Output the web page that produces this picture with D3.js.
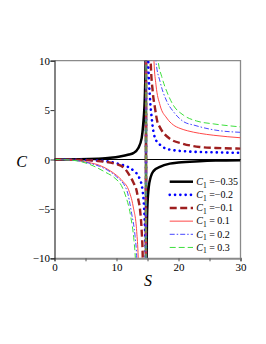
<!DOCTYPE html>
<html>
<head>
<meta charset="utf-8">
<script src="https://cdn.jsdelivr.net/npm/d3@7"></script>
<style>
  body { margin: 0; background: #fff; }
  svg text { font-family: "Liberation Serif", "DejaVu Serif", serif; }
</style>
</head>
<body>
<div id="container"></div>
<script>
// heat capacity C against entropy S for several values of C1

// S and C values, one pair of arrays per curve
const sBlack = [0, 4, 7, 9, 10.56, 12, 12.7, 13.5, 14.06, 14.3, 14.6, 14.7, 14.74,
                14.78, 14.85, 14.9, 15.0, 15.2, 15.5, 16.0, 17.0, 18.6, 20, 23.4, 26, 30];
const cBlack = [0, 0.02, 0.08, 0.17, 0.3, 0.5, 0.64, 1.14, 2.16, 3.5, 6.9, 10.5, 30,
                -30, -10.5, -7, -4.5, -2.8, -1.8, -1.15, -0.75, -0.42, -0.3, -0.17, -0.11, -0.07];

const sBlue = [0, 4, 6, 8.7, 10.3, 12, 12.7, 13.7, 14.2, 14.47, 14.64, 14.73, 14.74,
               14.78, 15.13, 15.4, 15.68, 15.84, 16.2, 17.0, 18.6, 21.9, 26, 30];
const cBlue = [0, -0.03, -0.08, -0.2, -0.44, -0.8, -1.1, -1.9, -3.1, -5.1, -7.8, -10, -30,
               30, 9.9, 6.2, 4.2, 3.3, 2.2, 1.5, 1.0, 0.8, 0.72, 0.68];

const sDark = [0, 4, 7, 9.8, 11.1, 11.9, 12.7, 13.26, 13.5, 13.8, 14.06, 14.23, 14.74,
               14.78, 15.52, 15.84, 16.21, 16.58, 16.97, 18.6, 20.7, 23.4, 26, 30];
const cDark = [0, -0.04, -0.15, -0.44, -0.78, -1.4, -2.3, -3.2, -4.0, -5.1, -7.2, -9.9, -60,
               60, 9.9, 6.9, 5.2, 3.85, 3.3, 2.1, 1.6, 1.27, 1.17, 1.1];

const sRed = [0, 3, 5.45, 7.3, 8.6, 10.0, 11.0, 11.9, 12.7, 13.26, 13.5, 14.74,
              14.78, 16.05, 16.37, 17.02, 18.1, 19.16, 20.24, 21.5, 23.4, 25.7, 30];
const cRed = [0, -0.06, -0.3, -0.6, -1.0, -1.6, -2.2, -3.0, -4.8, -7.3, -9.9, -80,
              80, 9.9, 7.55, 5.5, 4.2, 3.5, 3.15, 2.9, 2.65, 2.45, 2.2];

const sDashDot = [0, 3, 5.45, 7.3, 8.6, 10.0, 11.65, 12.45, 13.0, 13.26, 14.74,
                  14.78, 16.37, 17.02, 18.1, 19.16, 20.77, 22.66, 25.7, 30];
const cDashDot = [0, -0.07, -0.35, -0.7, -1.1, -1.75, -3.1, -5.5, -7.8, -9.9, -90,
                  90, 9.9, 7.9, 5.9, 4.86, 3.85, 3.45, 3.0, 2.75];

const sGreen = [0, 3, 5.45, 8.1, 9.76, 10.8, 11.37, 12.3, 12.82, 13.03, 14.74,
                14.78, 16.74, 17.29, 18.1, 19.16, 20.77, 22.9, 25.7, 30];
const cGreen = [0, -0.08, -0.44, -1.25, -1.9, -2.65, -3.5, -5.8, -8.2, -9.9, -100,
                100, 9.9, 8.4, 6.9, 5.5, 4.5, 3.9, 3.6, 3.3];

const legendValues = ["=\u22120.35", "=\u22120.2", "=\u22120.1", "= 0.1", "= 0.2", "= 0.3"];
const xTicks = [0, 10, 20, 30];
const yTicks = [-10, -5, 0, 5, 10];

const series = [
    { s: sBlack, c: cBlack, color: "#000000", width: 2.5, dash: null, cap: "butt" },
    { s: sBlue, c: cBlue, color: "#0000ff", width: 2.6, dash: "0.1,5.2", cap: "round" },
    { s: sDark, c: cDark, color: "#9e1f1f", width: 2.4, dash: "7,3.5", cap: "butt" },
    { s: sRed, c: cRed, color: "#ff4848", width: 1, dash: null, cap: "butt" },
    { s: sDashDot, c: cDashDot, color: "#4646ff", width: 1, dash: "5,2,1.5,2", cap: "butt" },
    { s: sGreen, c: cGreen, color: "#3ddf3d", width: 1, dash: "6,3", cap: "butt" }
];

const width = 266,
      height = 344;

const plotLeft = 54.5, plotRight = 240.5, plotTop = 60.7, plotBottom = 258.3;

const x = d3.scaleLinear().domain([0, 30]).range([plotLeft, plotRight]);
const y = d3.scaleLinear().domain([-10, 10]).range([plotBottom, plotTop]);

const svg = d3.select("#container").append("svg")
    .attr("width", width)
    .attr("height", height);

svg.append("rect")
    .attr("width", width)
    .attr("height", height)
    .attr("fill", "#fff");

svg.append("clipPath")
    .attr("id", "plot-clip")
  .append("rect")
    .attr("x", plotLeft)
    .attr("y", plotTop)
    .attr("width", plotRight - plotLeft)
    .attr("height", plotBottom - plotTop);

// frame
svg.append("path")
    .attr("d", "M" + plotLeft + "," + plotTop + "H" + plotRight + "V" + plotBottom)
    .attr("fill", "none")
    .attr("stroke", "#8a8a8a")
    .attr("stroke-width", 1.3);

// zero line
svg.append("line")
    .attr("x1", plotLeft).attr("x2", plotRight)
    .attr("y1", y(0)).attr("y2", y(0))
    .attr("stroke", "#000")
    .attr("stroke-width", 1);

// curves
const line = d3.line()
    .x(d => x(d[0]))
    .y(d => y(d[1]))
    .curve(d3.curveMonotoneX);

const curves = svg.append("g").attr("clip-path", "url(#plot-clip)");

series.forEach(function(d){
    curves.append("path")
        .datum(d.s.map((v, i) => [v, d.c[i]]))
        .attr("d", line)
        .attr("fill", "none")
        .attr("stroke", d.color)
        .attr("stroke-width", d.width)
        .attr("stroke-dasharray", d.dash)
        .attr("stroke-linecap", d.cap);
});

// axes
const xAxis = d3.axisBottom(x)
    .tickValues(d3.range(0, 31, 5))
    .tickSize(3)
    .tickFormat(v => xTicks.indexOf(v) >= 0 ? v : "");

const yAxis = d3.axisLeft(y)
    .tickValues(yTicks)
    .tickSize(4)
    .tickFormat(v => v < 0 ? "\u2212" + Math.abs(v) : v);

const gx = svg.append("g")
    .attr("transform", "translate(0," + plotBottom + ")")
    .call(xAxis);
gx.select(".domain").attr("stroke", "#8a8a8a").attr("stroke-width", 2);
gx.selectAll(".tick line").attr("stroke", "#555");
gx.selectAll(".tick text")
    .attr("font-family", "Liberation Serif")
    .attr("font-size", 11)
    .attr("fill", "#000")
    .attr("dy", "0.6em");

const gy = svg.append("g")
    .attr("transform", "translate(" + plotLeft + ",0)")
    .call(yAxis);
gy.select(".domain").attr("stroke", "#333").attr("stroke-width", 1.2);
gy.selectAll(".tick line").attr("stroke", "#333");
gy.selectAll(".tick text")
    .attr("font-family", "Liberation Serif")
    .attr("font-size", 11)
    .attr("fill", "#000")
    .attr("x", -4.5);

// axis titles
svg.append("text")
    .attr("x", 21.5)
    .attr("y", 166.5)
    .attr("text-anchor", "middle")
    .attr("font-style", "italic")
    .attr("font-size", 16)
    .text("C");

svg.append("text")
    .attr("x", 148)
    .attr("y", 285.5)
    .attr("text-anchor", "middle")
    .attr("font-style", "italic")
    .attr("font-size", 16)
    .text("S");

// legend
const legend = svg.append("g");

series.forEach(function(d, i){
    var ly = 181.7 + i * 13.15;
    legend.append("line")
        .attr("x1", 169.7).attr("x2", 193)
        .attr("y1", ly).attr("y2", ly)
        .attr("stroke", d.color)
        .attr("stroke-width", d.width)
        .attr("stroke-dasharray", d.dash)
        .attr("stroke-linecap", d.cap);

    var t = legend.append("text")
        .attr("x", 196.3)
        .attr("y", ly + 3.3)
        .attr("font-size", 10);
    t.append("tspan").attr("font-style", "italic").text("C");
    t.append("tspan").attr("font-size", 7.5).attr("dy", 2.5).text("1");
    t.append("tspan").attr("dy", -2.5).text(" " + legendValues[i]);
});
</script>
</body>
</html>
